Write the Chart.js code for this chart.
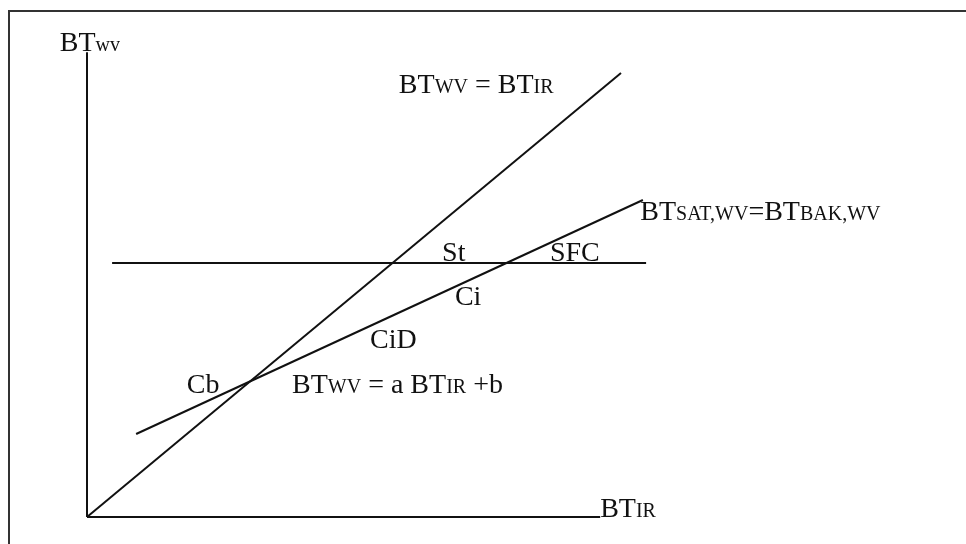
<!DOCTYPE html>
<html><head><meta charset="utf-8">
<script src="https://cdn.jsdelivr.net/npm/chart.js@4/dist/chart.umd.min.js"></script>
<style>html,body{margin:0;padding:0;background:#fff}canvas{display:block}</style>
</head><body>
<canvas id="c" width="966" height="544"></canvas>
<script>
// Schematic data (BT_IR on x, BT_WV on y, arbitrary units)
const lineIdentityX = [0, 100];
const lineIdentityY = [0, 100];
const lineSatX = [9.2, 104.1];
const lineSatY = [18.7, 71.4];
const lineSfcX = [4.7, 104.7];
const lineSfcY = [57.2, 57.2];
const axisYX = [0, 0];
const axisYY = [0, 104.7];
const axisXX = [0, 96.1];
const axisXY = [0, 0];

const BIG = 28, SMALL = 20;
// text labels: segments [text, size], anchored at data coordinates (left, baseline)
const labels = [
  {x: -5.1, y: 104.9, segs: [["BT", BIG], ["wv", SMALL]]},
  {x: 58.4, y: 95.5, segs: [["BT", BIG], ["WV", SMALL], [" = BT", BIG], ["IR", SMALL]]},
  {x: 103.6, y: 67.0, segs: [["BT", BIG], ["SAT,WV", SMALL], ["=BT", BIG], ["BAK,WV", SMALL]]},
  {x: 66.5, y: 57.7, segs: [["St", BIG]]},
  {x: 86.7, y: 57.7, segs: [["SFC", BIG]]},
  {x: 68.9, y: 47.7, segs: [["Ci", BIG]]},
  {x: 53.0, y: 38.0, segs: [["CiD", BIG]]},
  {x: 18.7, y: 27.9, segs: [["Cb", BIG]]},
  {x: 38.4, y: 27.9, segs: [["BT", BIG], ["WV", SMALL], [" = a BT", BIG], ["IR", SMALL], [" +b", BIG]]},
  {x: 96.1, y: 0, segs: [["BT", BIG], ["IR", SMALL]]}
];

function pts(xs, ys){ return xs.map((x,i)=>({x:x, y:ys[i]})); }
function ds(xs, ys){
  return {data: pts(xs, ys), showLine: true, borderColor: '#111', borderWidth: 2,
          pointRadius: 0, fill: false, clip: false, tension: 0};
}

const textPlugin = {
  id: 'schematicText',
  afterDraw(chart){
    const ctx = chart.ctx, xs = chart.scales.x, ys = chart.scales.y;
    ctx.save();
    // frame
    ctx.strokeStyle = '#333'; ctx.lineWidth = 2;
    ctx.beginPath();
    ctx.moveTo(970, 11); ctx.lineTo(9, 11); ctx.lineTo(9, 550);
    ctx.stroke();
    ctx.fillStyle = '#111';
    ctx.textBaseline = 'alphabetic';
    ctx.textAlign = 'left';
    labels.forEach(l => {
      let px = xs.getPixelForValue(l.x);
      const py = ys.getPixelForValue(l.y);
      l.segs.forEach(([t, s]) => {
        ctx.font = s + 'px "Liberation Serif", "Times New Roman", serif';
        ctx.fillText(t, px, py);
        px += ctx.measureText(t).width;
      });
    });
    ctx.restore();
  }
};

new Chart(document.getElementById('c'), {
  type: 'scatter',
  data: { datasets: [
    ds(axisYX, axisYY), ds(axisXX, axisXY),
    ds(lineIdentityX, lineIdentityY), ds(lineSatX, lineSatY), ds(lineSfcX, lineSfcY)
  ]},
  options: {
    responsive: false, animation: false, devicePixelRatio: 1,
    layout: {padding: {left: 87, right: 238.2, top: 28.6, bottom: 27}},
    plugins: {legend: {display: false}, tooltip: {enabled: false}},
    scales: {
      x: {type: 'linear', min: 0, max: 120, display: false},
      y: {type: 'linear', min: 0, max: 110, display: false}
    }
  },
  plugins: [textPlugin]
});
</script>
</body></html>
